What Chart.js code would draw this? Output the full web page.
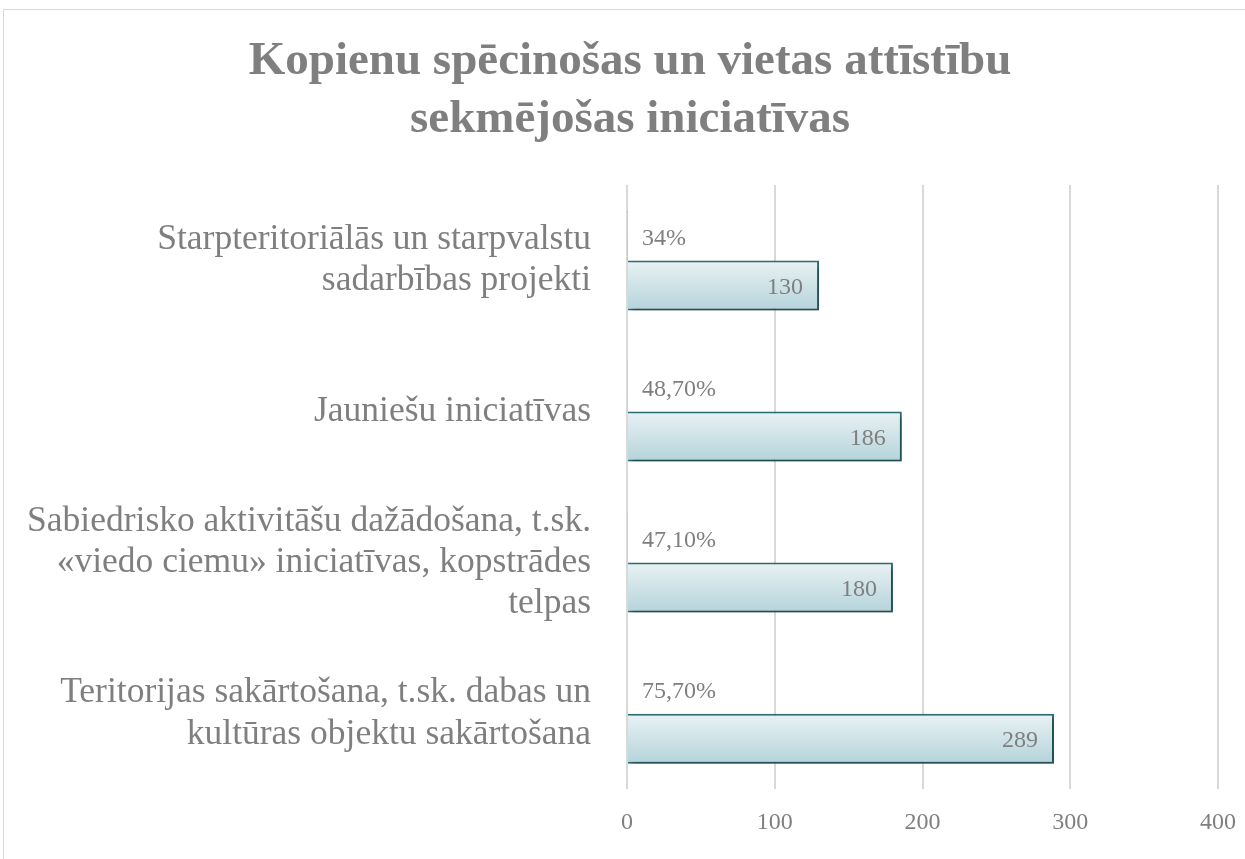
<!DOCTYPE html>
<html>
<head>
<meta charset="utf-8">
<script src="https://cdn.jsdelivr.net/npm/chart.js@4.4.1/dist/chart.umd.min.js"></script>
<style>
  html, body { margin: 0; padding: 0; background: #fff; overflow: hidden; }
  #box { position: absolute; left: 3px; top: 9px; width: 1254px; height: 870px; border: 1px solid #d9d9d9; box-sizing: border-box; }
  #grafiks { position: absolute; left: 0; top: 0; }
</style>
</head>
<body>
<div id="box"><canvas id="grafiks" width="1252" height="868"></canvas></div>
<script>
const kategorijas = [
    ['Starpteritoriālās un starpvalstu', 'sadarbības projekti'],
    ['Jauniešu iniciatīvas'],
    ['Sabiedrisko aktivitāšu dažādošana, t.sk.', '«viedo ciemu» iniciatīvas, kopstrādes', 'telpas'],
    ['Teritorijas sakārtošana, t.sk. dabas un', 'kultūras objektu sakārtošana']
];
const procenti = [0.34, 0.487, 0.471, 0.757];
const procentuTeksti = ['34%', '48,70%', '47,10%', '75,70%'];
const skaits = [130, 186, 180, 289];
const asuTicks = [0, 100, 200, 300, 400];

const fonts = '"Liberation Serif", "DejaVu Serif", serif';
const pelēks = '#7f7f7f';
const joslasDaļa = 0.662;

function stabaKrasa(c) {
    const chart = c.chart;
    const area = chart.chartArea;
    if (!area || !chart.scales.y) return '#cfe2e7';
    const band = (area.bottom - area.top) / kategorijas.length;
    const h = band * joslasDaļa / 2;
    const mid = chart.scales.y.getPixelForValue(c.dataIndex);
    const top = c.datasetIndex === 0 ? mid - h : mid;
    const g = chart.ctx.createLinearGradient(0, top, 0, top + h);
    g.addColorStop(0, '#e9f2f4');
    g.addColorStop(1, '#b4d3da');
    return g;
}

const ena = {
    id: 'ena',
    beforeDatasetsDraw(chart) {
        const ctx = chart.ctx;
        ctx.save();
        ctx.shadowColor = 'rgba(0,0,0,0.35)';
        ctx.shadowBlur = 5;
        ctx.shadowOffsetX = 3;
        ctx.shadowOffsetY = 3;
    },
    afterDatasetsDraw(chart) {
        chart.ctx.restore();
    }
};

const uzraksti = {
    id: 'uzraksti',
    afterDatasetsDraw(chart) {
        const ctx = chart.ctx;
        ctx.save();
        ctx.fillStyle = pelēks;
        ctx.font = '24px ' + fonts;
        ctx.textBaseline = 'middle';
        chart.getDatasetMeta(0).data.forEach((el, i) => {
            ctx.textAlign = 'left';
            ctx.fillText(procentuTeksti[i], el.base + 14, el.y + 3);
        });
        chart.getDatasetMeta(1).data.forEach((el, i) => {
            ctx.textAlign = 'right';
            ctx.fillText(String(skaits[i]), el.x - 16, el.y + 2);
        });
        ctx.restore();
    }
};

new Chart(document.getElementById('grafiks'), {
    type: 'bar',
    data: {
        labels: kategorijas,
        datasets: [
            {
                label: 'Procenti',
                data: procenti,
                backgroundColor: stabaKrasa,
                borderColor: '#2d6e77',
                borderWidth: 2
            },
            {
                label: 'Skaits',
                data: skaits,
                backgroundColor: stabaKrasa,
                borderColor: '#2d6e77',
                borderWidth: 2
            }
        ]
    },
    options: {
        indexAxis: 'y',
        responsive: false,
        animation: false,
        categoryPercentage: joslasDaļa,
        barPercentage: 1,
        layout: { padding: { top: 20, right: 38, bottom: 22, left: 38 } },
        plugins: {
            legend: { display: false },
            tooltip: { enabled: false },
            title: {
                display: true,
                text: ['Kopienu spēcinošas un vietas attīstību', 'sekmējošas iniciatīvas'],
                color: pelēks,
                font: { family: fonts, size: 47, weight: 'bold', lineHeight: 1.234 },
                padding: { top: 3, bottom: 36 }
            }
        },
        scales: {
            x: {
                min: asuTicks[0],
                max: asuTicks[asuTicks.length - 1],
                afterBuildTicks: s => { s.ticks = asuTicks.map(v => ({ value: v })); },
                grid: { color: '#d9d9d9', lineWidth: 2, drawTicks: false },
                border: { display: false },
                ticks: { color: pelēks, font: { family: fonts, size: 24 }, padding: 19 }
            },
            y: {
                grid: { display: false },
                border: { display: false },
                afterFit: s => {
                    s.width = 585;
                    // garās etiķetes nedrīkst nogriezt pie ass kreisās malas
                    s._computeLabelArea = () => undefined;
                },
                ticks: { color: pelēks, font: { family: fonts, size: 35.5, lineHeight: 1.16 }, padding: 28 }
            }
        }
    },
    plugins: [ena, uzraksti]
});
</script>
</body>
</html>
